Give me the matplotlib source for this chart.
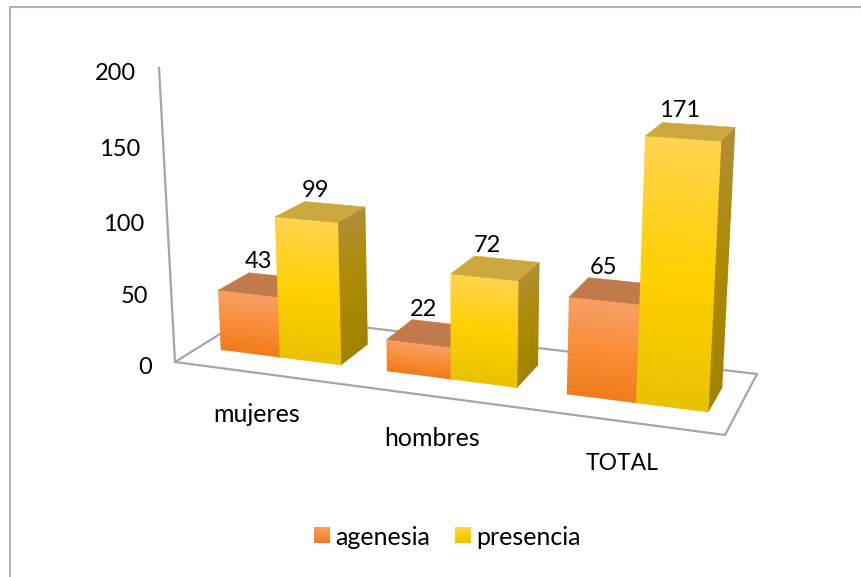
import numpy as np
import matplotlib
matplotlib.use("Agg")
import matplotlib.pyplot as plt
from matplotlib.colors import LinearSegmentedColormap
from matplotlib.patches import Polygon, Rectangle

categories = ["mujeres", "hombres", "TOTAL"]
series_names = ["agenesia", "presencia"]
agenesia = [43, 22, 65]
presencia = [99, 72, 171]
ticks = [0, 50, 100, 150, 200]

plt.rcParams["font.family"] = ["Lato", "DejaVu Sans"]

fig = plt.figure(figsize=(8.61, 5.77), dpi=100)
ax = fig.add_axes([0, 0, 1, 1])
ax.set_xlim(0, 861)
ax.set_ylim(577, 0)
ax.axis("off")

# floor corners in pixels, vertical vanishing point, top of the value axis
floor_px = [(175, 362), (725, 435), (757, 374), (252, 314)]
floor_uv = [(0, 0), (1, 0), (1, 1), (0, 1)]
vanish = np.array([460, 5616, 1.0])
axis_top_y = 68
ymax = ticks[-1]

rows = []
rhs = []
for (x, y), (u, v) in zip(floor_px, floor_uv):
    rows.append([u, v, 1, 0, 0, 0, -u * x, -v * x])
    rows.append([0, 0, 0, u, v, 1, -u * y, -v * y])
    rhs += [x, y]
h = np.linalg.solve(np.array(rows, float), np.array(rhs, float))
H = np.array([h[:3], h[3:6], [h[6], h[7], 1]])
origin = H[:, 2]
k = (axis_top_y * origin[2] - origin[1]) / (vanish[1] - axis_top_y)
P = np.column_stack([H[:, 0], H[:, 1], k * vanish, H[:, 2]])


def project(u, v, val):
    p = P @ np.array([u, v, val / ymax, 1.0])
    return p[0] / p[2], p[1] / p[2]


grey = "#a6a6a6"
floor = [project(u, v, 0) for u, v in floor_uv]
ax.add_patch(Polygon(floor, closed=True, fill=False, ec=grey, lw=1.6, zorder=1))
ax.plot(*zip(project(0, 0, 0), project(0, 0, ymax)), color=grey, lw=1.6, zorder=1)

orange_front = LinearSegmentedColormap.from_list("of", ["#f07c1c", "#f98e38", "#f6a067"])
yellow_front = LinearSegmentedColormap.from_list("yf", ["#e9c200", "#ffd000", "#ffd34f"])
orange_side = LinearSegmentedColormap.from_list("os", ["#a85a10", "#b86a20", "#b87a45"])
yellow_side = LinearSegmentedColormap.from_list("ys", ["#a08300", "#ad8a00", "#b08f35"])
orange_top = "#c17a4c"
yellow_top = "#cca83e"


def shaded_face(corners, val, cmap, n=12):
    (u0, v0), (u1, v1) = corners
    frac = np.linspace(0, 1, n + 1)
    left = np.array([project(u0, v0, val * f) for f in frac])
    right = np.array([project(u1, v1, val * f) for f in frac])
    xs = np.column_stack([left[:, 0], right[:, 0]])
    ys = np.column_stack([left[:, 1], right[:, 1]])
    cs = np.column_stack([frac, frac])
    ax.pcolormesh(xs, ys, cs, cmap=cmap, vmin=0, vmax=1, shading="gouraud", zorder=2)


bar_w = 1 / 2.75 / len(categories)
margin = 0.375 * bar_w
v0, v1 = 0.3, 0.7
styles = [(orange_front, orange_side, orange_top), (yellow_front, yellow_side, yellow_top)]

for i, cat in enumerate(categories):
    for s, values in enumerate([agenesia, presencia]):
        val = values[i]
        front, side, top = styles[s]
        u0 = i / len(categories) + margin + s * bar_w
        u1 = u0 + bar_w
        shaded_face([(u1, v0), (u1, v1)], val, side)
        shaded_face([(u0, v0), (u1, v0)], val, front)
        pts = [project(u0, v0, val), project(u1, v0, val), project(u1, v1, val), project(u0, v1, val)]
        ax.add_patch(Polygon(pts, closed=True, fc=top, ec=top, lw=0.4, zorder=2))
        lx, ly = project((u0 + u1) / 2, v1, val)
        ax.text(lx - 19, ly - 14, str(val), ha="center", va="center", fontsize=17, color="black", zorder=3)
    cx, cy = project((i + 0.5) / len(categories), 0, 0)
    ax.text(cx - 1, cy + 42, cat, ha="center", va="center", fontsize=16.5 if cat.isupper() else 18, color="black")

for t in ticks:
    x, y = project(0, 0, t)
    ax.text(x - 23, y + 5, str(t), ha="right", va="center", fontsize=17, color="black")

# legend
legend_x = [314, 455]
for x, name, (front, _, _) in zip(legend_x, series_names, styles):
    for j in range(16):
        ax.add_patch(Rectangle((x, 543 - j - 1), 16, 1, fc=front((j + 0.5) / 16), ec="none"))
    ax.text(x + 21, 537.5, name, ha="left", va="center", fontsize=18, color="black")

# chart frame
ax.plot([9.5, 9.5], [577, 6.5], color="#b3b3b3", lw=1.5)
ax.plot([9.5, 861], [6.5, 6.5], color="#b3b3b3", lw=1.5)

ax.set_xlim(0, 861)
ax.set_ylim(577, 0)
fig.savefig("out.png", dpi=100)
